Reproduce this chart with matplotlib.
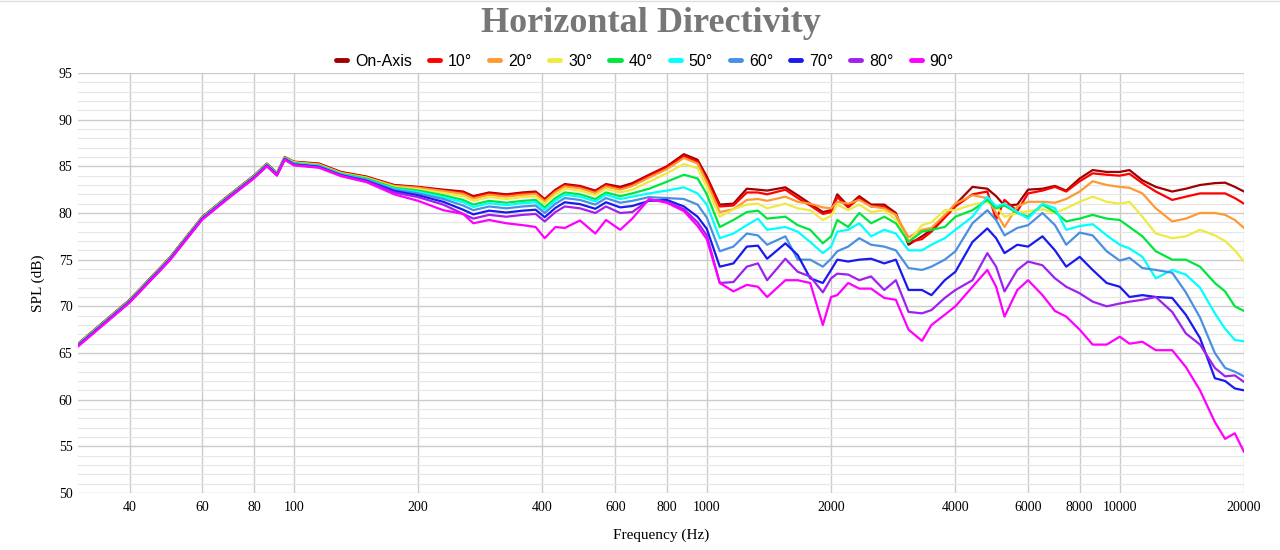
import matplotlib
matplotlib.use("Agg")
import matplotlib.pyplot as plt
from matplotlib.lines import Line2D
from matplotlib.ticker import FixedLocator, MultipleLocator, NullLocator

freqs = [30, 40, 50, 60, 70, 80, 86, 91, 95, 100,
         115, 130, 150, 175, 200, 230, 257, 272, 297, 327,
         358, 385, 405, 430, 453, 493, 537, 570, 617, 660,
         725, 800, 880, 950, 1000, 1075, 1160, 1250, 1330, 1400,
         1550, 1660, 1780, 1910, 2000, 2070, 2200, 2340, 2500, 2690,
         2870, 3080, 3320, 3500, 3770, 4000, 4400, 4780, 5020, 5260,
         5650, 6000, 6500, 6970, 7420, 8000, 8600, 9300, 10000, 10560,
         11350, 12230, 13400, 14460, 15650, 17000, 18000, 19000, 20000]

on_axis = [66.0, 70.7, 75.2, 79.6, 82.0, 84.0, 85.3, 84.3, 86.0, 85.5,
           85.3, 84.4, 83.9, 83.0, 82.8, 82.5, 82.3, 81.8, 82.2, 82.0,
           82.2, 82.3, 81.5, 82.5, 83.1, 82.9, 82.4, 83.1, 82.8, 83.2,
           84.1, 85.0, 86.3, 85.7, 83.9, 80.9, 81.0, 82.6, 82.5, 82.4,
           82.75, 81.9, 81.0, 80.1, 80.3, 82.0, 80.75, 81.8, 80.9, 80.9,
           80.0, 76.6, 77.5, 78.2, 79.6, 80.9, 82.8, 82.6, 81.8, 80.8,
           80.9, 82.5, 82.6, 82.9, 82.4, 83.7, 84.6, 84.4, 84.4, 84.6,
           83.5, 82.8, 82.3, 82.6, 83.0, 83.2, 83.25, 82.8, 82.3]

deg10 = [65.95, 70.65, 75.15, 79.55, 81.95, 83.95, 85.25, 84.25, 85.95, 85.45,
         85.25, 84.35, 83.85, 82.95, 82.75, 82.4, 82.2, 81.7, 82.1, 81.9,
         82.1, 82.2, 81.4, 82.4, 83.0, 82.8, 82.3, 83.0, 82.65, 83.05,
         84.0, 84.9, 86.1, 85.5, 83.6, 80.7, 80.8, 82.2, 82.2, 82.0,
         82.5, 81.6, 80.8, 79.9, 80.1, 81.7, 80.6, 81.6, 80.7, 80.7,
         79.8, 76.9, 77.2, 78.0, 79.5, 80.7, 82.0, 82.3, 79.3, 81.4,
         80.2, 82.1, 82.4, 82.8, 82.3, 83.4, 84.25, 84.1, 84.0, 84.2,
         83.2, 82.3, 81.4, 81.75, 82.1, 82.1, 82.1, 81.6, 81.0]

deg20 = [65.95, 70.65, 75.15, 79.55, 81.95, 83.95, 85.25, 84.25, 85.95, 85.45,
         85.2, 84.3, 83.8, 82.9, 82.7, 82.35, 82.05, 81.55, 81.95, 81.75,
         81.95, 82.05, 81.25, 82.25, 82.85, 82.65, 82.15, 82.85, 82.5, 82.9,
         83.8, 84.7, 85.9, 85.3, 83.3, 80.1, 80.4, 81.4, 81.5, 81.3,
         81.75, 81.2, 81.0, 80.6, 80.5, 81.2, 81.0, 81.4, 80.7, 80.5,
         79.8, 77.4, 78.2, 78.4, 79.8, 81.0, 81.9, 81.6, 80.0, 78.5,
         80.7, 81.2, 81.2, 81.1, 81.5, 82.3, 83.4, 83.0, 82.8, 82.7,
         82.1, 80.5, 79.1, 79.4, 80.0, 80.0, 79.8, 79.25, 78.4]

deg30 = [65.9, 70.6, 75.1, 79.5, 81.9, 83.9, 85.2, 84.2, 85.9, 85.4,
         85.15, 84.25, 83.75, 82.8, 82.55, 82.15, 81.8, 81.3, 81.7, 81.5,
         81.7, 81.8, 81.0, 82.0, 82.6, 82.4, 81.9, 82.6, 82.2, 82.5,
         83.35, 84.25, 85.25, 84.8, 82.8, 79.6, 80.4, 80.9, 81.0, 80.5,
         81.0, 80.5, 80.3, 79.25, 79.7, 80.9, 80.3, 80.9, 80.1, 80.3,
         79.3, 76.9, 78.7, 79.0, 80.3, 80.3, 80.9, 81.2, 80.7, 79.6,
         80.0, 80.2, 80.4, 80.0, 80.5, 81.2, 81.75, 81.2, 81.0, 81.2,
         79.6, 77.8, 77.3, 77.5, 78.2, 77.6, 77.0, 76.0, 74.8]

deg40 = [65.9, 70.6, 75.1, 79.5, 81.9, 83.9, 85.2, 84.2, 85.9, 85.35,
         85.1, 84.2, 83.7, 82.7, 82.4, 81.9, 81.4, 80.9, 81.3, 81.1,
         81.3, 81.4, 80.6, 81.6, 82.2, 82.0, 81.5, 82.2, 81.8, 82.1,
         82.6, 83.35, 84.1, 83.7, 82.0, 78.5, 79.25, 80.1, 80.25, 79.4,
         79.6, 78.7, 78.2, 76.75, 77.5, 79.25, 78.5, 80.0, 78.9, 79.6,
         78.9, 76.9, 78.0, 78.2, 78.5, 79.6, 80.3, 81.4, 80.5, 80.8,
         80.0, 79.6, 80.9, 80.1, 79.1, 79.4, 79.8, 79.4, 79.25, 78.5,
         77.5, 75.9, 75.0, 75.0, 74.25, 72.5, 71.6, 70.0, 69.5]

deg50 = [65.85, 70.55, 75.05, 79.45, 81.85, 83.85, 85.15, 84.15, 85.85, 85.3,
         85.05, 84.15, 83.6, 82.6, 82.25, 81.7, 81.15, 80.65, 81.05, 80.85,
         81.05, 81.15, 80.35, 81.35, 81.95, 81.75, 81.25, 81.95, 81.5, 81.75,
         82.1, 82.4, 82.75, 82.1, 80.9, 77.3, 77.8, 78.7, 79.4, 78.2,
         78.5, 78.0, 76.9, 75.7, 76.4, 78.0, 78.2, 78.9, 77.5, 78.2,
         77.8, 76.0, 76.0, 76.6, 77.3, 78.2, 79.6, 81.75, 80.7, 81.0,
         80.1, 79.4, 81.0, 80.5, 78.2, 78.6, 78.8, 77.6, 76.6, 76.2,
         75.3, 73.0, 73.9, 73.4, 72.0, 69.25, 67.6, 66.4, 66.25]

deg60 = [65.8, 70.5, 75.0, 79.4, 81.8, 83.8, 85.1, 84.1, 85.8, 85.25,
         85.0, 84.1, 83.55, 82.5, 82.1, 81.5, 80.8, 80.3, 80.7, 80.5,
         80.7, 80.8, 80.0, 81.0, 81.6, 81.4, 80.9, 81.6, 81.1, 81.3,
         81.7, 81.6, 81.5, 80.9, 79.5, 75.9, 76.4, 77.8, 77.6, 76.6,
         77.5, 75.0, 75.0, 74.25, 75.1, 75.9, 76.4, 77.3, 76.6, 76.4,
         76.0, 74.1, 73.9, 74.25, 75.0, 75.9, 78.9, 80.3, 79.25, 77.6,
         78.4, 78.7, 80.0, 78.7, 76.6, 77.9, 77.6, 75.9, 74.9, 75.2,
         74.1, 73.9, 73.6, 71.5, 68.8, 65.0, 63.4, 63.0, 62.5]

deg70 = [65.8, 70.5, 75.0, 79.4, 81.8, 83.8, 85.1, 84.1, 85.8, 85.2,
         84.95, 84.05, 83.45, 82.35, 81.9, 81.2, 80.35, 79.85, 80.25, 80.05,
         80.25, 80.35, 79.55, 80.55, 81.15, 80.95, 80.45, 81.15, 80.6, 80.75,
         81.3, 81.4, 80.7, 79.6, 78.3, 74.25, 74.6, 76.4, 76.5, 75.1,
         76.75, 75.5, 73.0, 72.5, 73.9, 75.0, 74.8, 75.0, 75.1, 74.6,
         75.0, 71.75, 71.75, 71.2, 72.8, 73.7, 76.9, 78.35, 77.3, 75.7,
         76.6, 76.4, 77.5, 76.0, 74.25, 75.3, 73.9, 72.5, 72.1, 71.0,
         71.2, 71.0, 70.9, 69.1, 66.6, 62.3, 62.0, 61.2, 61.0]

deg80 = [65.75, 70.45, 74.95, 79.35, 81.75, 83.75, 85.05, 84.05, 85.75, 85.15,
         84.9, 84.0, 83.4, 82.2, 81.7, 80.9, 79.9, 79.4, 79.8, 79.6,
         79.8, 79.9, 79.1, 80.1, 80.7, 80.5, 80.0, 80.7, 80.0, 80.1,
         81.4, 81.2, 80.4, 79.0, 77.6, 72.5, 72.6, 74.25, 74.6, 72.8,
         75.1, 73.7, 73.2, 71.5, 73.0, 73.5, 73.4, 72.8, 73.2, 71.75,
         72.8, 69.4, 69.25, 69.6, 70.9, 71.75, 72.8, 75.7, 74.25, 71.6,
         73.9, 74.8, 74.4, 73.0, 72.1, 71.4, 70.5, 70.0, 70.3, 70.5,
         70.7, 71.0, 69.4, 67.1, 65.9, 63.4, 62.5, 62.6, 61.9]

deg90 = [65.7, 70.4, 74.9, 79.3, 81.7, 83.7, 85.0, 84.0, 85.7, 85.1,
         84.85, 83.95, 83.3, 82.0, 81.3, 80.3, 79.9, 78.9, 79.25, 78.9,
         78.7, 78.5, 77.3, 78.5, 78.4, 79.2, 77.8, 79.25, 78.2, 79.4,
         81.5, 81.1, 80.2, 78.6, 77.2, 72.5, 71.6, 72.3, 72.1, 71.0,
         72.8, 72.8, 72.5, 68.0, 71.0, 71.2, 72.5, 71.9, 71.9, 70.9,
         70.7, 67.5, 66.3, 68.0, 69.1, 70.0, 72.1, 73.9, 72.1, 68.9,
         71.75, 72.8, 71.2, 69.5, 68.9, 67.5, 65.9, 65.9, 66.75, 66.0,
         66.2, 65.3, 65.3, 63.5, 61.0, 57.6, 55.8, 56.4, 54.4]

labels = ["On-Axis", "10°", "20°", "30°", "40°", "50°", "60°", "70°", "80°", "90°"]
colors = ["#a00000", "#ff0000", "#ff9933", "#eeea44", "#00e640",
          "#00ffff", "#4a90e2", "#1a1aee", "#a020f0", "#ff00ff"]
series = [on_axis, deg10, deg20, deg30, deg40, deg50, deg60, deg70, deg80, deg90]

xticks = [40, 60, 80, 100, 200, 400, 600, 800, 1000, 2000, 4000, 6000, 8000, 10000, 20000]

fig = plt.figure(figsize=(12.8, 5.5), dpi=100)
ax = fig.add_axes([78 / 1280, 1 - 493 / 550, (1244 - 78) / 1280, (493 - 73) / 550])

for vals, lab, col in zip(series, labels, colors):
    ax.plot(freqs, vals, color=col, lw=1.6, label=lab,
            solid_joinstyle="round", solid_capstyle="round")

ax.set_xscale("log")
ax.set_xlim(30, 20000)
ax.set_ylim(50, 95)
ax.xaxis.set_major_locator(FixedLocator(xticks))
ax.xaxis.set_minor_locator(NullLocator())
ax.set_xticklabels([str(t) for t in xticks])
ax.yaxis.set_major_locator(MultipleLocator(5))
ax.yaxis.set_minor_locator(MultipleLocator(1))

ax.grid(True, which="major", color="#cccccc", lw=1)
ax.grid(True, which="minor", axis="y", color="#e6e6e6", lw=0.8)
ax.set_axisbelow(True)
for s in ax.spines.values():
    s.set_visible(False)
ax.tick_params(which="both", length=0, labelsize=10)
ax.tick_params(axis="x", pad=6)
ax.tick_params(axis="y", pad=4)
for t in ax.get_xticklabels() + ax.get_yticklabels():
    t.set_fontfamily("Liberation Serif")

ax.set_xlabel("Frequency (Hz)", family="Liberation Serif", fontsize=11, labelpad=10)
ax.set_ylabel("SPL (dB)", family="Liberation Serif", fontsize=11, labelpad=10)

fig.text(651 / 1280, 1 - 24 / 550, "Horizontal Directivity", ha="center", va="center",
         family="Liberation Serif", fontweight="bold", fontsize=26, color="#777777")
fig.add_artist(Line2D([0, 1], [0.998, 0.998], color="#dddddd", lw=1))

leg = fig.legend(loc="center", bbox_to_anchor=(645 / 1280, 1 - 61 / 550), ncol=10,
                 frameon=False, handlelength=0.7, handletextpad=0.5, columnspacing=1.05,
                 prop={"family": "Liberation Sans", "size": 11.5})
for h in leg.get_lines():
    h.set_linewidth(3.5)

fig.savefig("out.png", dpi=100)
